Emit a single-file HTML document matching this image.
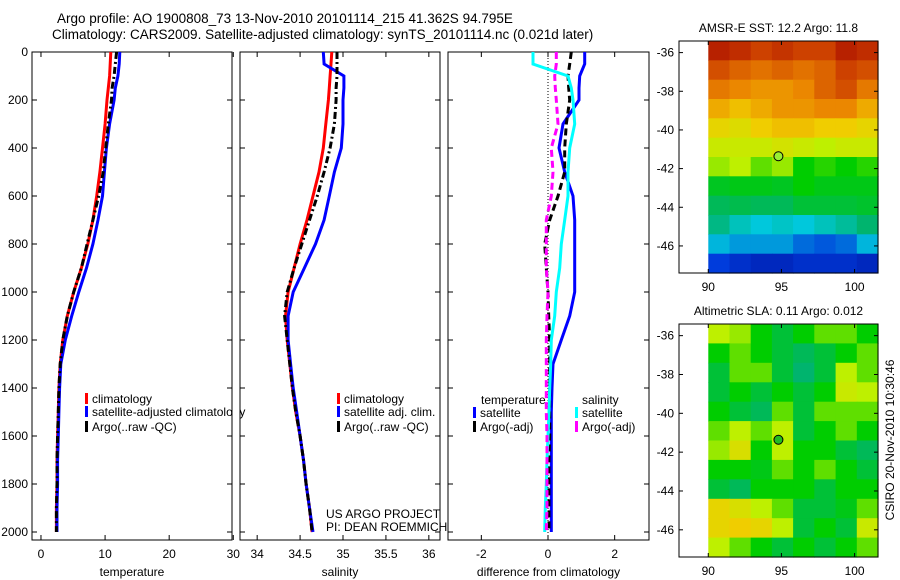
<!DOCTYPE html>
<html><head><meta charset="utf-8"><style>
body{margin:0;background:#fff}
svg{display:block;font-family:"Liberation Sans",sans-serif}
</style></head><body>
<svg id="c" width="900" height="580" xmlns="http://www.w3.org/2000/svg">
<text x="57" y="23" font-size="13.5">Argo profile: AO 1900808_73 13-Nov-2010 20101114_215 41.362S 94.795E</text>
<text x="52" y="39" font-size="13.5">Climatology: CARS2009. Satellite-adjusted climatology: synTS_20101114.nc (0.021d later)</text>
</svg>
<script>
const pres=[0,50,100,150,200,300,400,500,600,700,800,900,1000,1100,1200,1300,1400,1500,1600,1700,1800,1900,2000];
const tClim=[10.9,10.8,10.7,10.5,10.3,10.0,9.6,9.2,8.7,8.1,7.3,6.3,5.1,4.1,3.4,3.0,2.8,2.7,2.6,2.5,2.5,2.4,2.4];
const tSat=[12.3,12.2,12.0,11.6,11.4,10.7,10.2,9.9,9.6,8.9,8.1,7.1,5.9,4.8,3.8,3.1,2.9,2.8,2.7,2.6,2.6,2.5,2.5];
const tArgo=[11.8,11.6,11.4,11.1,11.0,10.5,10.1,9.7,9.0,8.1,7.2,6.3,5.1,4.1,3.4,3.0,2.8,2.7,2.6,2.5,2.5,2.4,2.4];
const sClim=[34.87,34.86,34.85,34.84,34.83,34.80,34.77,34.72,34.65,34.58,34.50,34.43,34.36,34.33,34.35,34.38,34.41,34.45,34.50,34.54,34.57,34.61,34.64];
const sSat=[34.77,34.78,35.01,35.01,35.00,35.00,34.98,34.90,34.84,34.78,34.68,34.55,34.42,34.36,34.36,34.39,34.42,34.46,34.50,34.54,34.57,34.61,34.65];
const sArgo=[34.93,34.93,34.93,34.92,34.92,34.90,34.85,34.78,34.70,34.61,34.52,34.43,34.35,34.32,34.35,34.38,34.41,34.45,34.50,34.54,34.57,34.61,34.64];
const dTSat=[1.1,1.1,0.95,0.93,0.93,0.45,0.33,0.5,0.75,0.8,0.8,0.8,0.8,0.65,0.4,0.15,0.12,0.1,0.1,0.1,0.1,0.1,0.1];
const dTArgo=[0.7,0.65,0.6,0.62,0.65,0.55,0.5,0.5,0.3,0.05,-0.1,-0.05,0,0.02,0.05,0.05,0.05,0.05,0.05,0.03,0.03,0.03,0.03];
const dSSat=[-0.45,-0.45,0.6,0.7,0.75,0.8,0.65,0.6,0.6,0.5,0.4,0.35,0.25,0.2,0.1,0.08,0.05,0.03,0,-0.03,-0.05,-0.08,-0.1];
const dSArgo=[0.25,0.25,0.2,0.22,0.25,0.3,0.1,0.15,0.1,-0.05,-0.05,-0.05,0,-0.03,-0.05,-0.05,-0.05,-0.05,-0.03,-0.03,-0.03,-0.03,-0.05];
const lonTicks=[90,95,100];
const latTicks=[-36,-38,-40,-42,-44,-46];
const sstGrid=[
[0.95,0.93,0.9,0.92,0.9,0.9,0.95,0.93],
[0.88,0.85,0.83,0.85,0.83,0.85,0.9,0.88],
[0.82,0.8,0.78,0.78,0.8,0.85,0.88,0.82],
[0.75,0.72,0.75,0.78,0.78,0.8,0.8,0.75],
[0.68,0.66,0.7,0.72,0.72,0.7,0.7,0.68],
[0.62,0.62,0.62,0.64,0.62,0.6,0.62,0.62],
[0.58,0.6,0.55,0.58,0.5,0.52,0.5,0.52],
[0.47,0.48,0.48,0.47,0.5,0.48,0.48,0.48],
[0.42,0.43,0.42,0.42,0.45,0.45,0.45,0.46],
[0.38,0.33,0.3,0.32,0.3,0.33,0.36,0.4],
[0.28,0.25,0.25,0.25,0.2,0.18,0.2,0.28],
[0.15,0.12,0.1,0.1,0.12,0.12,0.12,0.1]];
const slaGrid=[
[0.6,0.58,0.5,0.45,0.5,0.55,0.55,0.5],
[0.5,0.55,0.5,0.45,0.42,0.45,0.5,0.55],
[0.45,0.55,0.55,0.45,0.4,0.45,0.6,0.55],
[0.45,0.5,0.45,0.5,0.45,0.5,0.62,0.6],
[0.5,0.45,0.42,0.55,0.45,0.55,0.55,0.55],
[0.55,0.6,0.55,0.6,0.45,0.5,0.55,0.5],
[0.58,0.65,0.5,0.6,0.5,0.5,0.45,0.42],
[0.5,0.5,0.48,0.55,0.5,0.55,0.5,0.45],
[0.45,0.42,0.5,0.5,0.5,0.45,0.5,0.5],
[0.68,0.65,0.6,0.55,0.45,0.45,0.48,0.55],
[0.68,0.7,0.68,0.6,0.45,0.5,0.45,0.62],
[0.6,0.55,0.5,0.45,0.5,0.45,0.5,0.55]];
const argoLon=94.795, argoLat=-41.362;

const svg=document.getElementById('c');const NS='http://www.w3.org/2000/svg';
function mk(t,a,p){const e=document.createElementNS(NS,t);for(const k in a)e.setAttribute(k,a[k]);(p||svg).appendChild(e);return e;}
function txt(x,y,s,fs,anchor,p){const e=mk('text',{x:x,y:y,'font-size':fs||12,'text-anchor':anchor||'start'},p);e.textContent=s;return e;}
const Y0=52,Y1=540;const py=p=>Y0+p*0.24;
function panel(name,x0,x1,xmin,xmax,ticks,tickLbl,yl,label){
  const g=mk('g',{});
  
  
  mk('rect',{x:x0,y:Y0,width:x1-x0,height:Y1-Y0,fill:'none',stroke:'#000','stroke-width':1},g);
  const sx=v=>x0+(v-xmin)/(xmax-xmin)*(x1-x0);
  ticks.forEach((t,i)=>{const X=sx(t);mk('line',{x1:X,x2:X,y1:Y1,y2:Y1-5,stroke:'#000'},g);mk('line',{x1:X,x2:X,y1:Y0,y2:Y0+5,stroke:'#000'},g);
    const l=txt(X,558,tickLbl[i],12,'middle',g);});
  for(let p=0;p<=2000;p+=200){const Y=py(p);mk('line',{x1:x0,x2:x0+5,y1:Y,y2:Y,stroke:'#000'},g);mk('line',{x1:x1,x2:x1-5,y1:Y,y2:Y,stroke:'#000'},g);
    if(yl){const l=txt(28,Y+4,String(p),12,'end',g);}}
  const al=txt((x0+x1)/2,576,label,12,'middle',g);
  return {g,sx};
}
function line(P,sx,vals,color,dash,name){
  let d='';vals.forEach((v,i)=>{d+=(i?'L':'M')+sx(v).toFixed(1)+','+py(pres[i]).toFixed(1);});
  const e=mk('path',{d:d,fill:'none',stroke:color,'stroke-width':3,'stroke-dasharray':dash||'none'},P.g);
  
}
function legend(x,y,color,s,g){const m=mk('rect',{x:x,y:y-10,width:3,height:11,fill:color},g);
  const t=txt(x+7,y,s,12,'start',g);}
const P1=panel('temperature-panel',32,232,-1.4,29.8,[0,10,20,30],['0','10','20','30'],true,'temperature');
line(P1,P1.sx,tClim,'#f00','','climatology-temp-line');
line(P1,P1.sx,tSat,'#00f','','satellite-temp-line');
line(P1,P1.sx,tArgo,'#000','7,3,2,3','argo-temp-line');
legend(85,403,'#f00','climatology',P1.g);legend(85,416,'#00f','satellite-adjusted climatology',P1.g);legend(85,431,'#000','Argo(..raw -QC)',P1.g);
const P2=panel('salinity-panel',240,440,33.8,36.13,[34,34.5,35,35.5,36],['34','34.5','35','35.5','36'],false,'salinity');
line(P2,P2.sx,sClim,'#f00','','climatology-sal-line');
line(P2,P2.sx,sSat,'#00f','','satellite-sal-line');
line(P2,P2.sx,sArgo,'#000','7,3,2,3','argo-sal-line');
legend(337,403,'#f00','climatology',P2.g);legend(337,416,'#00f','satellite adj. clim.',P2.g);legend(337,431,'#000','Argo(..raw -QC)',P2.g);
let t1=txt(326,518,'US ARGO PROJECT',12);
let t2=txt(326,531,'PI: DEAN ROEMMICH',12);
mk('rect',{x:232.5,y:405,width:7,height:14,fill:'#fff'});
const P3=panel('difference-panel',448,649,-3,3.03,[-2,0,2],['-2','0','2'],false,'difference from climatology');
mk('line',{x1:P3.sx(0),x2:P3.sx(0),y1:Y0,y2:Y1,stroke:'#000','stroke-dasharray':'1,2'},P3.g);
line(P3,P3.sx,dTSat,'#00f','','temp-satellite-diff-line');
line(P3,P3.sx,dTArgo,'#000','7,4','temp-argo-diff-line');
line(P3,P3.sx,dSSat,'#0ff','','sal-satellite-diff-line');
line(P3,P3.sx,dSArgo,'#f0f','7,4','sal-argo-diff-line');
let h1=txt(481,404,'temperature',12,'start',P3.g);
let h2=txt(582,404,'salinity',12,'start',P3.g);
legend(473,417,'#00f','satellite',P3.g);legend(473,431,'#000','Argo(-adj)',P3.g);
legend(575,417,'#0ff','satellite',P3.g);legend(575,431,'#f0f','Argo(-adj)',P3.g);
const cmapStops=[[0,[0,0,130]],[0.15,[0,60,220]],[0.3,[0,200,220]],[0.4,[0,180,110]],[0.5,[0,205,0]],[0.6,[190,240,0]],[0.7,[240,205,0]],[0.8,[235,135,0]],[0.9,[205,65,0]],[1,[160,0,0]]];
function cmap(v){v=Math.max(0,Math.min(1,v));for(let i=1;i<cmapStops.length;i++){const [a,ca]=cmapStops[i-1],[b,cb]=cmapStops[i];if(v<=b){const f=(v-a)/(b-a);return `rgb(${ca.map((c,k)=>Math.round(c+(cb[k]-c)*f)).join(',')})`;}}return 'rgb(160,0,0)';}
function map(name,top,bot,grid,title,dotColor){
  const g=mk('g',{});
  
  
  const x0=679,x1=878,lonMin=88.0,lonMax=101.6,latMax=-35.4,latMin=-47.4;
  const sx=v=>x0+(v-lonMin)/(lonMax-lonMin)*(x1-x0);
  const sy=v=>top+(latMax-v)/(latMax-latMin)*(bot-top);
  const nr=grid.length,nc=grid[0].length,dLon=(lonMax-90)/nc,dLat=(latMax-latMin)/nr;
  grid.forEach((row,r)=>row.forEach((v,c)=>{
    const X=sx(90+c*dLon),Yv=sy(latMax-r*dLat);
    const e=mk('rect',{x:X.toFixed(1),y:Yv.toFixed(1),width:(sx(90+(c+1)*dLon)-X+0.6).toFixed(1),height:(sy(latMax-(r+1)*dLat)-Yv+0.6).toFixed(1),fill:cmap(v)},g);
    
  }));
  mk('rect',{x:x0,y:top,width:x1-x0,height:bot-top,fill:'none',stroke:'#000'},g);
  lonTicks.forEach(t=>{const X=sx(t);mk('line',{x1:X,x2:X,y1:bot,y2:bot-4,stroke:'#000'},g);mk('line',{x1:X,x2:X,y1:top,y2:top+4,stroke:'#000'},g);
    const l=txt(X,bot+18,String(t),12,'middle',g);});
  latTicks.forEach(t=>{const Y=sy(t);mk('line',{x1:x0,x2:x0+4,y1:Y,y2:Y,stroke:'#000'},g);mk('line',{x1:x1,x2:x1-4,y1:Y,y2:Y,stroke:'#000'},g);
    const l=txt(x0-5,Y+4,String(t),12,'end',g);});
  const tt=txt((x0+x1)/2,top-9,title,12,'middle',g);
  const d=mk('circle',{cx:sx(argoLon),cy:sy(argoLat),r:4.5,fill:dotColor,stroke:'#000'},g);
  
}
map('sst-map',41,273,sstGrid,'AMSR-E SST: 12.2 Argo: 11.8','#9e3');
map('sla-map',324,557,slaGrid,'Altimetric SLA: 0.11 Argo: 0.012','#2b2');
const cs=txt(0,0,'CSIRO 20-Nov-2010 10:30:46',12,'middle');
cs.setAttribute('transform','translate(894,440) rotate(-90)');


</script>
</body></html>
